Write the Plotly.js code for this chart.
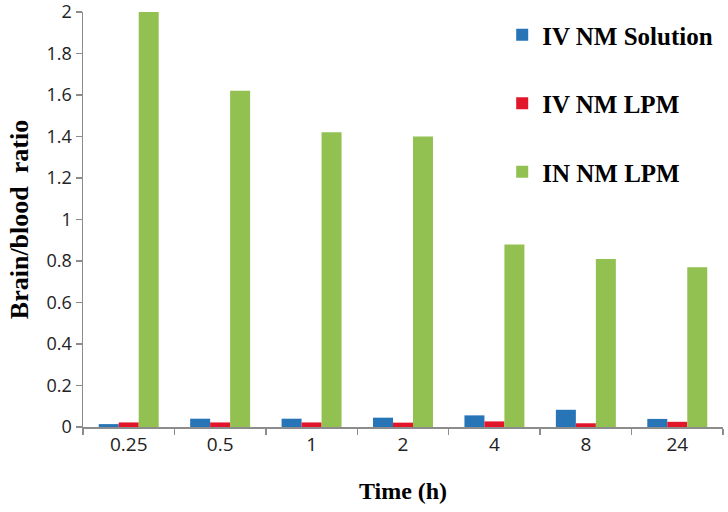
<!DOCTYPE html>
<html>
<head>
<meta charset="utf-8">
<script src="https://cdn.plot.ly/plotly-3.0.1.min.js"></script>
<style>html,body{margin:0;padding:0;background:#fff;}#chart{width:728px;height:512px;}</style>
</head>
<body>
<div id="chart"></div>
<script>
const categories = ["0.25", "0.5", "1", "2", "4", "8", "24"];
const ivSolution = [0.014, 0.040, 0.040, 0.045, 0.056, 0.083, 0.039];
const ivLpm = [0.022, 0.022, 0.022, 0.021, 0.027, 0.018, 0.025];
const inLpm = [2.00, 1.62, 1.42, 1.40, 0.88, 0.81, 0.77];
const seriesNames = ["IV NM Solution", "IV NM LPM", "IN NM LPM"];
const colors = ["#2775B6", "#E2162B", "#92C051"];

const allValues = [ivSolution, ivLpm, inLpm];
const traces = allValues.map((vals, i) => ({
  type: "bar",
  x: categories,
  y: vals,
  name: seriesNames[i],
  legendgroup: "g" + i,
  marker: {color: colors[i]}
}));

const layout = {
  width: 728,
  height: 512,
  margin: {l: 83, r: 5, t: 12, b: 85},
  paper_bgcolor: "#fff",
  plot_bgcolor: "#fff",
  barmode: "group",
  bargap: 0.344,
  bargroupgap: 0,
  showlegend: true,
  legend: {
    x: 0.655, y: 1.0, xanchor: "left", yanchor: "top",
    traceorder: "grouped",
    tracegroupgap: 33,
    font: {family: "Liberation Serif", size: 25, color: "#000", weight: "bold"},
    bgcolor: "rgba(0,0,0,0)"
  },
  xaxis: {
    type: "category",
    showline: true, linecolor: "#8c8c8c", linewidth: 1.5,
    ticks: "outside", tickson: "boundaries", ticklen: 6, tickcolor: "#8c8c8c", tickwidth: 1.5,
    tickfont: {family: "Open Sans", size: 19, color: "#222"},
    title: {text: "Time (h)", font: {family: "Liberation Serif", size: 24, color: "#000", weight: "bold"}, standoff: 26},
    showgrid: false
  },
  yaxis: {
    range: [0, 2],
    dtick: 0.2, tick0: 0,
    showline: true, linecolor: "#8c8c8c", linewidth: 1.5,
    ticks: "outside", ticklen: 6, tickcolor: "#8c8c8c", tickwidth: 1.5,
    ticklabeloverflow: "allow",
    tickfont: {family: "Open Sans", size: 18, color: "#222"},
    title: {text: "Brain/blood  ratio", font: {family: "Liberation Serif", size: 26, color: "#000", weight: "bold"}, standoff: 10},
    showgrid: false, zeroline: false
  }
};

Plotly.newPlot("chart", traces, layout, {displayModeBar: false, staticPlot: true});
</script>
</body>
</html>
